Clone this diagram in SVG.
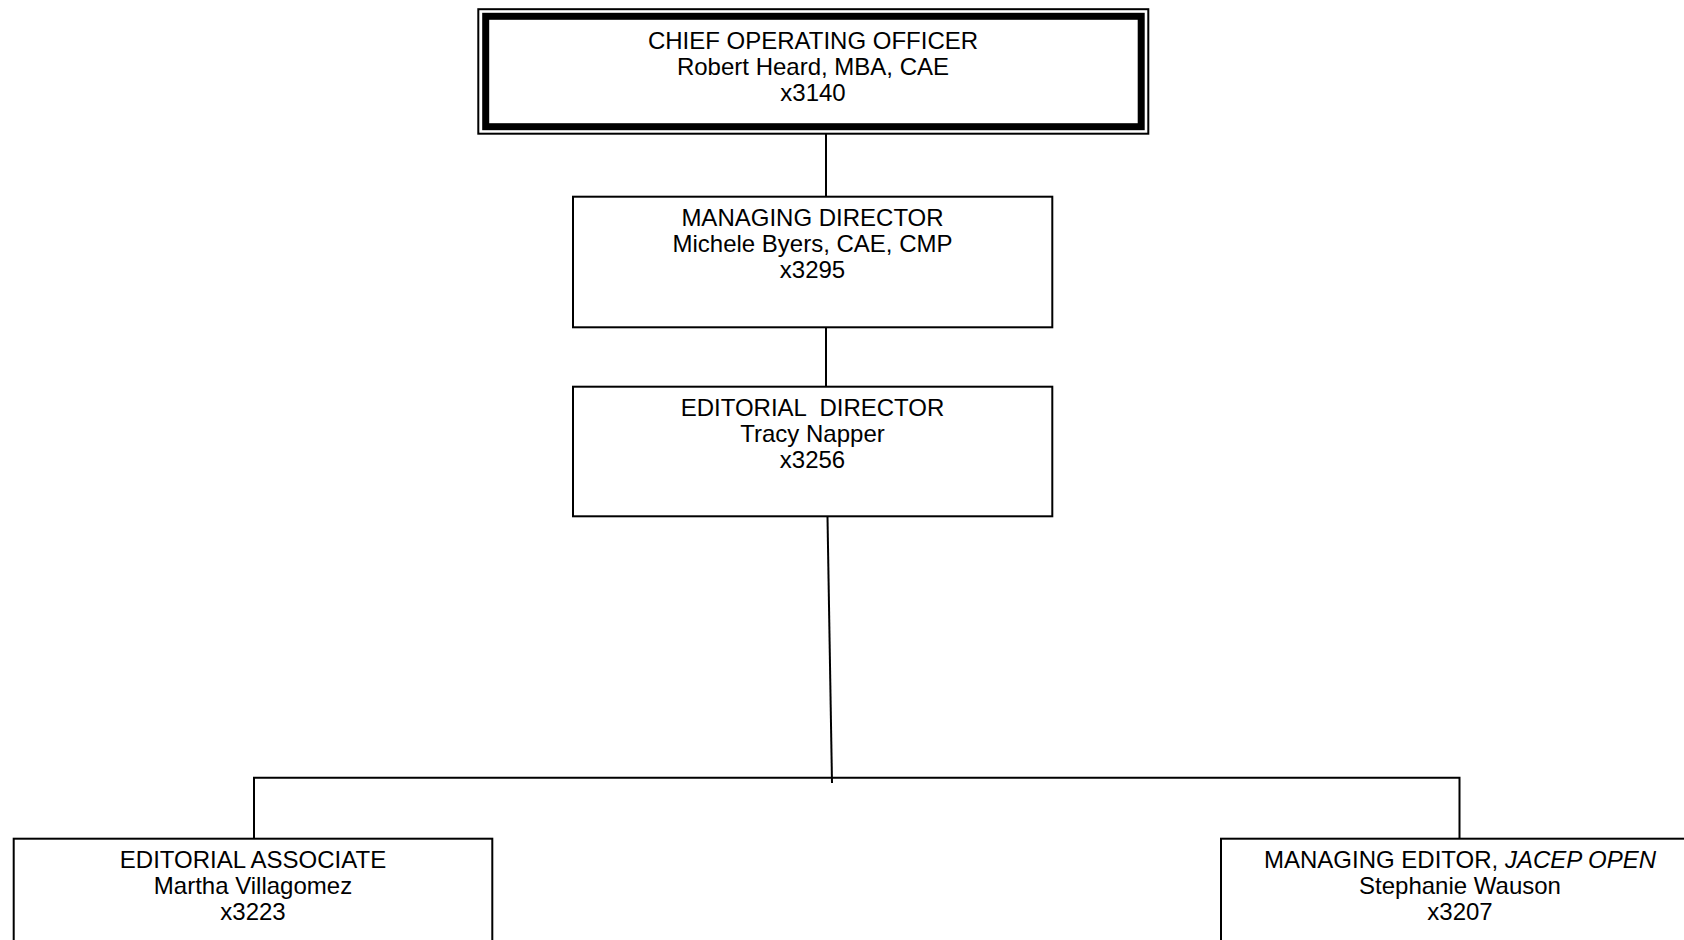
<svg xmlns="http://www.w3.org/2000/svg" width="1684" height="940" viewBox="0 0 1684 940">
  <style>
    .box { fill: #ffffff; stroke: #000000; stroke-width: 2; }
    .thick { fill: none; stroke: #000000; stroke-width: 7; }
    .conn { fill: none; stroke: #000000; stroke-width: 2; }
    .t { font-family: "Liberation Sans", Arial, sans-serif; font-size: 24px; fill: #000000; text-anchor: middle; }
  </style>
  <rect width="1684" height="940" fill="#ffffff"/>
  <g id="connectors">
    <line class="conn" x1="826" y1="134" x2="826" y2="196"/>
    <line class="conn" x1="826" y1="328" x2="826" y2="386"/>
    <line class="conn" x1="827.5" y1="517" x2="832" y2="783"/>
    <polyline class="conn" points="254,839 254,777.7 1459.5,777.7 1459.5,839"/>
  </g>
  <g id="coo">
    <rect class="box" x="478.3" y="9.2" width="670" height="124.5"/>
    <rect class="thick" x="485.7" y="16.3" width="655.5" height="110.4"/>
    <text class="t" x="813" y="49">CHIEF OPERATING OFFICER</text>
    <text class="t" x="813" y="75">Robert Heard, MBA, CAE</text>
    <text class="t" x="813" y="101">x3140</text>
  </g>
  <g id="managing-director">
    <rect class="box" x="573" y="196.7" width="479.3" height="130.6"/>
    <text class="t" x="812.5" y="225.7">MANAGING DIRECTOR</text>
    <text class="t" x="812.5" y="251.7">Michele Byers, CAE, CMP</text>
    <text class="t" x="812.5" y="277.7">x3295</text>
  </g>
  <g id="editorial-director">
    <rect class="box" x="573" y="386.7" width="479.3" height="129.6"/>
    <text class="t" x="812.5" y="416" xml:space="preserve">EDITORIAL  DIRECTOR</text>
    <text class="t" x="812.5" y="442">Tracy Napper</text>
    <text class="t" x="812.5" y="468">x3256</text>
  </g>
  <g id="editorial-associate">
    <rect class="box" x="13.7" y="838.7" width="478.6" height="160"/>
    <text class="t" x="253" y="868">EDITORIAL ASSOCIATE</text>
    <text class="t" x="253" y="894">Martha Villagomez</text>
    <text class="t" x="253" y="920">x3223</text>
  </g>
  <g id="managing-editor">
    <rect class="box" x="1221" y="838.7" width="478" height="160"/>
    <text class="t" x="1460" y="868">MANAGING EDITOR, <tspan font-style="italic">JACEP OPEN</tspan></text>
    <text class="t" x="1460" y="894">Stephanie Wauson</text>
    <text class="t" x="1460" y="920">x3207</text>
  </g>
</svg>
